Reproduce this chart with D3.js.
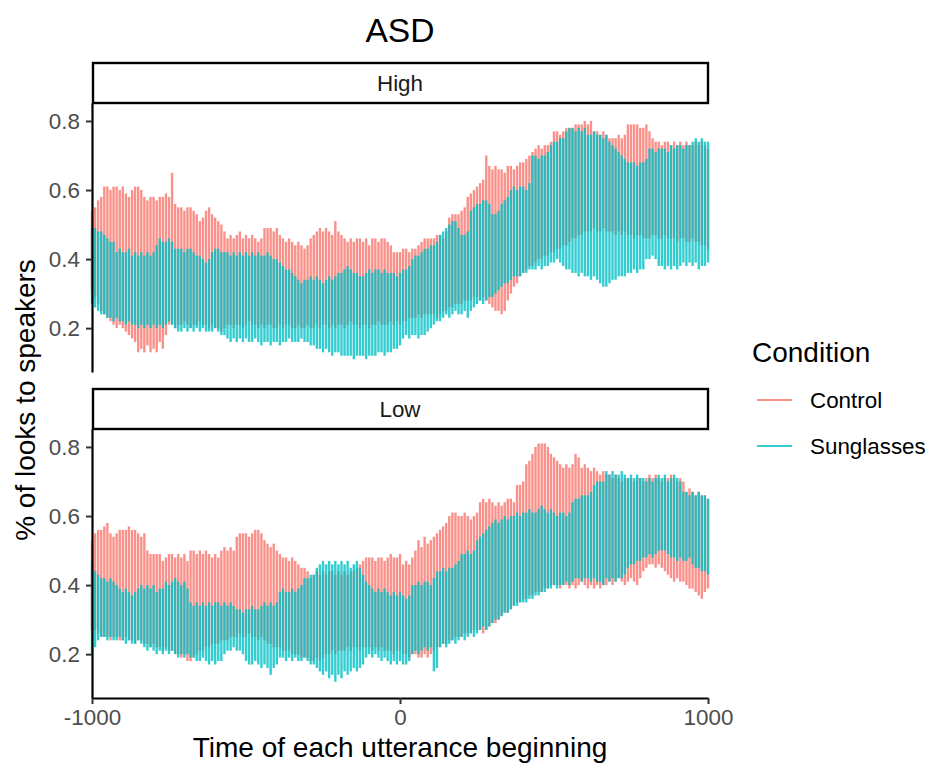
<!DOCTYPE html>
<html>
<head>
<meta charset="utf-8">
<script src="https://cdn.jsdelivr.net/npm/d3@7"></script>
<style>
  body { margin: 0; background: #fff; }
  svg text { font-family: "Liberation Sans", Arial, Helvetica, sans-serif; }
  .axis .tick text { fill: #4d4d4d; font-size: 22.4px; }
  .axis .tick line { stroke: #333; stroke-width: 2; }
  .axis .domain { stroke: #000; stroke-width: 2.2; }
</style>
</head>
<body>
<div id="chart"></div>
<script>
// looks to speakers over time, error bars per 10 ms bin
// values are proportions (lower / upper end of each bar)

var times = d3.range(-1000, 1001, 10);
var conditions = ["Control", "Sunglasses"];
var colors = ["#F8766D", "#00BFC4"];
var facets = ["High", "Low"];
var yTicks = [0.2, 0.4, 0.6, 0.8];
var xTicks = [-1000, 0, 1000];

// High facet
var highControlHi = [
  .54,.55,.57,.58,.61,.61,.60,.61,.61,.60,
  .61,.59,.58,.60,.61,.61,.60,.58,.57,.58,
  .58,.57,.58,.58,.59,.58,.65,.56,.55,.55,
  .54,.55,.55,.54,.53,.51,.52,.54,.55,.53,
  .52,.51,.50,.48,.46,.47,.46,.47,.48,.46,
  .47,.46,.47,.46,.45,.46,.49,.49,.49,.48,
  .49,.47,.46,.45,.46,.45,.44,.45,.44,.43,
  .44,.46,.47,.48,.49,.48,.49,.48,.47,.51,
  .48,.47,.46,.45,.46,.45,.46,.46,.45,.46,
  .44,.46,.46,.45,.46,.46,.45,.44,.42,.42,
  .42,.43,.43,.42,.43,.43,.44,.45,.46,.46,
  .46,.46,.47,.47,.46,.48,.52,.53,.53,.53,
  .54,.55,.58,.59,.60,.61,.62,.63,.70,.67,
  .66,.67,.66,.66,.65,.67,.67,.66,.67,.68,
  .68,.69,.70,.71,.72,.73,.72,.73,.73,.74,
  .77,.77,.76,.77,.78,.78,.78,.79,.79,.79,
  .80,.79,.80,.77,.77,.76,.77,.76,.75,.75,
  .75,.76,.75,.76,.79,.79,.79,.79,.78,.78,
  .79,.77,.75,.74,.74,.73,.74,.74,.73,.74,
  .73,.74,.73,.74,.73,.73,.74,.73,.74,.73,
  .72];
var highControlLo = [
  .31,.29,.27,.25,.24,.23,.22,.21,.20,.21,
  .20,.19,.18,.17,.16,.13,.14,.13,.15,.13,
  .14,.13,.16,.14,.18,.21,.21,.20,.21,.21,
  .22,.21,.20,.21,.21,.22,.21,.21,.20,.21,
  .20,.20,.19,.20,.21,.21,.20,.21,.21,.20,
  .21,.22,.21,.21,.20,.21,.20,.21,.21,.20,
  .20,.21,.20,.21,.21,.20,.20,.21,.20,.20,
  .21,.20,.20,.21,.20,.21,.21,.20,.21,.20,
  .21,.21,.20,.21,.22,.21,.21,.20,.21,.21,
  .20,.21,.21,.22,.21,.21,.21,.22,.21,.22,
  .21,.22,.22,.23,.23,.23,.24,.23,.24,.24,
  .24,.24,.23,.24,.25,.25,.26,.26,.27,.27,
  .27,.28,.28,.28,.29,.29,.28,.29,.28,.27,
  .26,.25,.25,.24,.25,.28,.30,.32,.33,.35,
  .36,.37,.38,.38,.39,.40,.40,.41,.41,.42,
  .42,.43,.43,.44,.44,.45,.46,.46,.47,.47,
  .48,.48,.48,.49,.48,.48,.49,.48,.48,.48,
  .47,.48,.47,.48,.47,.47,.46,.47,.47,.46,
  .46,.46,.47,.47,.46,.46,.47,.46,.46,.46,
  .45,.46,.46,.45,.45,.46,.45,.45,.44,.44,
  .43];
var highSunHi = [
  .49,.49,.48,.48,.47,.46,.45,.45,.42,.43,
  .42,.42,.43,.41,.42,.41,.42,.41,.42,.41,
  .42,.44,.46,.45,.45,.46,.45,.43,.43,.43,
  .42,.43,.43,.42,.41,.41,.40,.39,.40,.42,
  .43,.43,.42,.42,.42,.41,.42,.41,.42,.41,
  .42,.41,.42,.41,.42,.41,.41,.42,.41,.40,
  .40,.39,.38,.37,.37,.36,.35,.34,.33,.34,
  .34,.35,.34,.35,.34,.33,.34,.35,.34,.35,
  .36,.36,.37,.38,.37,.36,.36,.35,.35,.36,
  .37,.36,.37,.37,.36,.37,.36,.36,.36,.35,
  .36,.37,.37,.38,.40,.41,.41,.42,.43,.43,
  .44,.44,.45,.47,.48,.49,.50,.51,.51,.49,
  .47,.47,.48,.54,.55,.56,.56,.57,.57,.56,
  .53,.53,.54,.56,.57,.58,.60,.61,.60,.61,
  .61,.60,.62,.70,.70,.69,.70,.70,.71,.73,
  .74,.74,.75,.75,.77,.78,.78,.77,.78,.77,
  .78,.76,.76,.77,.76,.76,.75,.76,.74,.73,
  .72,.71,.70,.69,.68,.68,.68,.67,.68,.68,
  .69,.72,.72,.71,.72,.72,.72,.71,.73,.72,
  .73,.73,.72,.73,.73,.74,.75,.74,.75,.74,
  .74];
var highSunLo = [
  .27,.26,.25,.24,.24,.23,.23,.22,.23,.22,
  .22,.21,.22,.21,.21,.20,.21,.20,.21,.20,
  .21,.20,.21,.20,.21,.22,.21,.20,.19,.19,
  .20,.19,.20,.19,.20,.19,.20,.19,.19,.19,
  .20,.19,.18,.18,.17,.16,.17,.16,.17,.16,
  .17,.16,.16,.17,.16,.15,.16,.16,.15,.16,
  .16,.15,.16,.16,.17,.16,.16,.16,.17,.16,
  .16,.15,.15,.14,.14,.13,.14,.13,.12,.13,
  .13,.12,.12,.12,.12,.11,.12,.12,.12,.11,
  .12,.12,.12,.13,.13,.12,.13,.13,.14,.14,
  .15,.17,.18,.17,.18,.18,.17,.18,.18,.19,
  .20,.21,.22,.22,.23,.24,.23,.24,.25,.24,
  .24,.25,.23,.25,.26,.27,.28,.27,.28,.29,
  .29,.30,.31,.32,.33,.33,.34,.35,.35,.35,
  .36,.36,.37,.37,.37,.38,.37,.38,.38,.39,
  .39,.40,.39,.38,.37,.37,.36,.36,.35,.36,
  .35,.35,.34,.35,.34,.33,.32,.32,.33,.34,
  .34,.35,.35,.35,.36,.36,.37,.36,.37,.37,
  .40,.40,.41,.40,.38,.38,.37,.38,.37,.38,
  .37,.38,.39,.38,.39,.38,.39,.37,.38,.38,
  .39];

// Low facet
var lowControlHi = [
  .53,.55,.56,.56,.57,.58,.55,.54,.55,.56,
  .56,.56,.57,.56,.56,.55,.54,.55,.50,.49,
  .49,.49,.49,.47,.48,.49,.49,.48,.49,.48,
  .49,.47,.50,.50,.49,.50,.49,.50,.49,.48,
  .49,.48,.50,.51,.50,.51,.50,.54,.55,.55,
  .55,.54,.55,.56,.56,.55,.53,.52,.51,.52,
  .50,.49,.48,.48,.47,.48,.47,.46,.45,.45,
  .44,.42,.43,.44,.43,.44,.43,.44,.44,.43,
  .44,.43,.44,.43,.44,.44,.45,.46,.47,.48,
  .48,.48,.47,.48,.48,.47,.48,.49,.48,.48,
  .49,.46,.47,.46,.48,.50,.53,.51,.54,.52,
  .53,.54,.55,.56,.57,.58,.60,.61,.61,.60,
  .60,.61,.60,.59,.60,.61,.64,.65,.64,.65,
  .64,.63,.64,.63,.64,.65,.65,.64,.69,.69,
  .70,.75,.76,.78,.80,.81,.81,.81,.80,.78,
  .77,.76,.75,.74,.75,.74,.75,.78,.77,.74,
  .75,.74,.73,.74,.73,.72,.73,.72,.72,.71,
  .72,.71,.70,.71,.71,.71,.70,.71,.71,.70,
  .71,.72,.71,.72,.71,.70,.71,.71,.72,.71,
  .70,.71,.70,.67,.68,.67,.66,.67,.66,.66,
  .65];
var lowControlLo = [
  .27,.27,.26,.25,.25,.25,.24,.25,.25,.24,
  .24,.25,.24,.24,.23,.24,.24,.23,.23,.22,
  .23,.22,.22,.21,.22,.21,.21,.20,.20,.19,
  .20,.18,.18,.19,.20,.21,.21,.22,.22,.23,
  .23,.23,.24,.24,.24,.25,.25,.25,.26,.25,
  .25,.26,.25,.25,.24,.25,.24,.23,.23,.22,
  .22,.22,.21,.21,.21,.20,.20,.20,.19,.19,
  .19,.18,.18,.19,.18,.19,.20,.20,.21,.20,
  .21,.21,.21,.22,.21,.22,.22,.21,.22,.22,
  .22,.21,.22,.21,.22,.21,.21,.21,.20,.21,
  .21,.20,.20,.19,.20,.20,.19,.19,.20,.19,
  .20,.21,.22,.22,.23,.23,.24,.24,.25,.25,
  .25,.26,.26,.26,.27,.27,.27,.26,.27,.28,
  .29,.29,.30,.31,.32,.32,.33,.34,.35,.35,
  .36,.36,.37,.37,.38,.38,.38,.39,.39,.40,
  .40,.40,.39,.40,.40,.39,.40,.39,.40,.41,
  .40,.39,.40,.39,.40,.39,.40,.40,.41,.40,
  .41,.42,.41,.40,.41,.42,.41,.40,.42,.44,
  .45,.46,.46,.45,.46,.45,.44,.43,.42,.41,
  .42,.41,.41,.40,.39,.39,.38,.37,.36,.38,
  .39];
var lowSunHi = [
  .47,.44,.43,.42,.42,.41,.42,.41,.40,.39,
  .38,.39,.38,.37,.38,.39,.40,.39,.40,.39,
  .40,.38,.39,.39,.41,.40,.41,.42,.41,.40,
  .41,.39,.35,.34,.35,.34,.35,.34,.35,.34,
  .35,.35,.34,.35,.34,.35,.34,.33,.33,.32,
  .33,.33,.34,.33,.33,.34,.35,.34,.35,.34,
  .35,.38,.39,.38,.38,.39,.38,.39,.40,.42,
  .42,.43,.43,.45,.46,.47,.46,.47,.46,.47,
  .46,.47,.46,.47,.45,.46,.47,.45,.43,.41,
  .40,.39,.38,.39,.38,.39,.38,.37,.38,.37,
  .38,.37,.36,.37,.40,.40,.41,.40,.41,.41,
  .40,.42,.44,.44,.45,.44,.45,.45,.46,.47,
  .49,.49,.50,.49,.50,.53,.54,.55,.56,.57,
  .58,.59,.58,.59,.60,.59,.60,.60,.61,.60,
  .61,.61,.62,.61,.61,.62,.63,.62,.61,.62,
  .61,.60,.61,.61,.60,.61,.64,.65,.65,.66,
  .66,.66,.67,.69,.70,.70,.70,.73,.72,.73,
  .72,.72,.73,.72,.71,.72,.71,.72,.71,.71,
  .70,.71,.70,.71,.72,.71,.72,.70,.71,.72,
  .71,.70,.67,.67,.66,.67,.66,.67,.66,.66,
  .65];
var lowSunLo = [
  .20,.22,.24,.25,.25,.24,.25,.24,.24,.25,
  .24,.23,.24,.23,.23,.24,.23,.22,.21,.22,
  .21,.20,.21,.20,.21,.20,.21,.20,.19,.20,
  .19,.20,.19,.19,.18,.18,.19,.18,.17,.18,
  .17,.18,.18,.20,.21,.21,.22,.21,.21,.20,
  .18,.17,.17,.18,.17,.16,.17,.16,.14,.16,
  .17,.19,.19,.18,.19,.18,.19,.18,.18,.19,
  .18,.17,.17,.16,.15,.14,.15,.13,.14,.12,
  .14,.13,.15,.14,.15,.16,.15,.16,.17,.19,
  .20,.19,.20,.19,.18,.19,.18,.17,.18,.17,
  .18,.17,.17,.18,.20,.21,.20,.21,.22,.21,
  .22,.15,.16,.22,.23,.22,.23,.24,.23,.24,
  .25,.24,.25,.26,.25,.26,.27,.28,.27,.28,
  .29,.30,.30,.31,.32,.32,.33,.34,.34,.35,
  .35,.35,.36,.36,.37,.37,.38,.38,.39,.39,
  .40,.39,.40,.40,.41,.40,.41,.42,.42,.41,
  .42,.42,.41,.42,.41,.41,.40,.42,.41,.42,
  .41,.42,.42,.43,.45,.46,.46,.47,.47,.48,
  .48,.49,.48,.49,.50,.50,.50,.49,.48,.48,
  .47,.48,.47,.47,.48,.46,.45,.45,.44,.44,
  .43];

var panels = [
  {label: facets[0], top: 103, series: [[highControlLo, highControlHi], [highSunLo, highSunHi]]},
  {label: facets[1], top: 429, series: [[lowControlLo, lowControlHi], [lowSunLo, lowSunHi]]}
];

var svgWidth = 930, svgHeight = 765;
var margin = {left: 92},
    panelW = 616,
    panelH = 269,
    stripH = 40;

var svg = d3.select('#chart').append('svg')
  .attr('width', svgWidth)
  .attr('height', svgHeight);

var x = d3.scaleLinear()
  .domain([-1000, 1000])
  .range([0, panelW]);

var y = d3.scaleLinear()
  .domain([0.073, 0.852])
  .range([panelH, 0]);

var color = d3.scaleOrdinal()
  .domain(conditions)
  .range(colors);

// title
svg.append('text')
  .attr('x', margin.left + panelW / 2)
  .attr('y', 42)
  .attr('text-anchor', 'middle')
  .attr('font-size', 33.6)
  .attr('fill', '#000')
  .text('ASD');

panels.forEach(function(p, pi) {
  // facet strip
  var strip = svg.append('g')
    .attr('transform', 'translate(' + margin.left + ',' + (p.top - stripH) + ')');
  strip.append('rect')
    .attr('x', 1)
    .attr('y', 0)
    .attr('width', panelW - 1)
    .attr('height', stripH)
    .attr('fill', '#fff')
    .attr('stroke', '#000')
    .attr('stroke-width', 2.4);
  strip.append('text')
    .attr('x', panelW / 2)
    .attr('y', stripH / 2 + 8)
    .attr('text-anchor', 'middle')
    .attr('font-size', 22.4)
    .attr('fill', '#1a1a1a')
    .text(p.label);

  var g = svg.append('g')
    .attr('transform', 'translate(' + margin.left + ',' + p.top + ')');

  // error bars, control first so sunglasses sits on top
  p.series.forEach(function(s, si) {
    var bars = times.map(function(t, i) {
      return {t: t, lo: s[0][i], hi: s[1][i]};
    });
    g.append('g')
      .attr('class', 'bars')
      .selectAll('line')
      .data(bars)
      .enter().append('line')
      .attr('x1', function(d) { return x(d.t); })
      .attr('x2', function(d) { return x(d.t); })
      .attr('y1', function(d) { return y(d.lo); })
      .attr('y2', function(d) { return y(d.hi); })
      .attr('stroke', color(conditions[si]))
      .attr('stroke-opacity', 0.8)
      .attr('stroke-width', 2.4);
  });

  g.append('g')
    .attr('class', 'axis y-axis')
    .call(d3.axisLeft(y)
      .tickValues(yTicks)
      .tickFormat(d3.format('.1f'))
      .tickSize(6)
      .tickSizeOuter(0)
      .tickPadding(6));

  if (pi === panels.length - 1) {
    g.append('g')
      .attr('class', 'axis x-axis')
      .attr('transform', 'translate(0,' + panelH + ')')
      .call(d3.axisBottom(x)
        .tickValues(xTicks)
        .tickFormat(function(d) { return String(d); })
        .tickSize(6)
        .tickSizeOuter(0)
        .tickPadding(5));
  }
});

svg.selectAll('.axis .tick text').attr('font-size', 22.4);

// axis titles
svg.append('text')
  .attr('x', margin.left + panelW / 2)
  .attr('y', 757)
  .attr('text-anchor', 'middle')
  .attr('font-size', 28)
  .attr('fill', '#000')
  .text('Time of each utterance beginning');

svg.append('text')
  .attr('transform', 'translate(35,400) rotate(-90)')
  .attr('text-anchor', 'middle')
  .attr('font-size', 28)
  .attr('fill', '#000')
  .text('% of looks to speakers');

// legend
var legend = svg.append('g')
  .attr('class', 'legend')
  .attr('transform', 'translate(752,0)');

legend.append('text')
  .attr('x', 0)
  .attr('y', 362)
  .attr('font-size', 28)
  .attr('fill', '#000')
  .text('Condition');

var item = legend.selectAll('.item')
  .data(conditions)
  .enter().append('g')
  .attr('class', 'item')
  .attr('transform', function(d, i) { return 'translate(0,' + (400 + i * 46) + ')'; });

item.append('line')
  .attr('x1', 5)
  .attr('x2', 40)
  .attr('stroke', function(d) { return color(d); })
  .attr('stroke-opacity', 0.8)
  .attr('stroke-width', 2.2);

item.append('text')
  .attr('x', 58)
  .attr('y', 8)
  .attr('font-size', 22.4)
  .attr('fill', '#000')
  .text(function(d) { return d; });
</script>
</body>
</html>
